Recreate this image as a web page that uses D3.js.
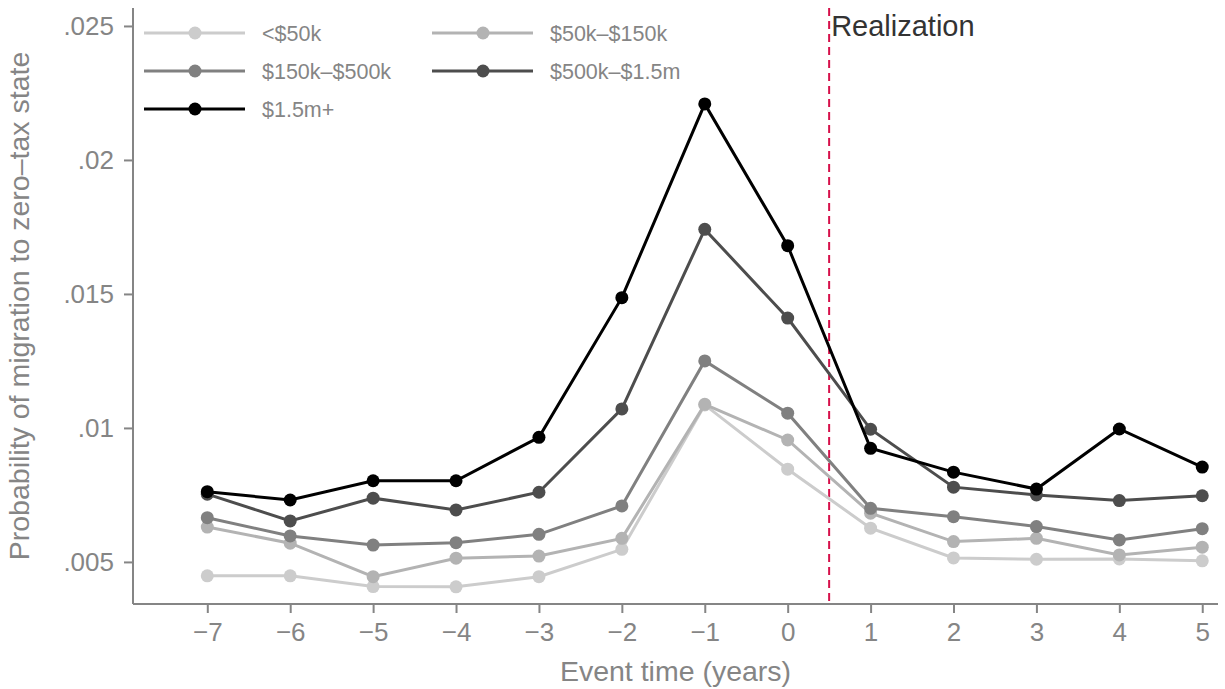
<!DOCTYPE html>
<html>
<head>
<meta charset="utf-8">
<script src="https://cdn.jsdelivr.net/npm/d3@7"></script>
<style>
  body { margin: 0; background: #fff; }
  svg { font-family: "Liberation Sans", Arial, sans-serif; }
</style>
</head>
<body>
<div id="content"></div>
<script>
// Screen dimensions
var w = 1225;
var h = 689;

// Data: event time vs probability of migration, by income group
var years = [-7, -6, -5, -4, -3, -2, -1, 0, 1, 2, 3, 4, 5];
var groups = ["<$50k", "$50k\u2013$150k", "$150k\u2013$500k", "$500k\u2013$1.5m", "$1.5m+"];
var under50k   = [0.00448, 0.00448, 0.00408, 0.00407, 0.00445, 0.00547, 0.01086, 0.00846, 0.00626, 0.00515, 0.0051, 0.00511, 0.00504];
var k50to150   = [0.0063, 0.0057, 0.00445, 0.00514, 0.00522, 0.00588, 0.01088, 0.00955, 0.00682, 0.00576, 0.00588, 0.00526, 0.00555];
var k150to500  = [0.00665, 0.00597, 0.00563, 0.00572, 0.00603, 0.00709, 0.0125, 0.01055, 0.007, 0.00669, 0.00632, 0.00582, 0.00624];
var k500to1500 = [0.00753, 0.00653, 0.00738, 0.00694, 0.0076, 0.01071, 0.01741, 0.0141, 0.00995, 0.00779, 0.0075, 0.00729, 0.00747];
var over1500   = [0.00762, 0.00731, 0.00803, 0.00803, 0.00965, 0.01486, 0.02209, 0.0168, 0.00924, 0.00835, 0.00772, 0.00996, 0.00854];
var series = [under50k, k50to150, k150to500, k500to1500, over1500];

var yTicks = [0.005, 0.01, 0.015, 0.02, 0.025];
var yTickLabels = [".005", ".01", ".015", ".02", ".025"];
var realizationAt = 0.5;

// Colors (light to dark)
var colors = ["#cccccc", "#b3b3b3", "#808080", "#4d4d4d", "#000000"];
var axisGrey = "#858585";

// Plot area (note: "top" is a reserved window property, so use other names)
var pLeft = 133, pRight = 1218, pTop = 8, pBottom = 604;

var x = d3.scaleLinear().domain([-7.896, 5.19]).range([pLeft, pRight]);
var y = d3.scaleLinear().domain([0.00343, 0.02567]).range([pBottom, pTop]);

var svg = d3.select("#content")
    .append("svg")
    .attr("width", w)
    .attr("height", h);

// Axes
var xAxis = d3.axisBottom(x)
    .tickValues(years)
    .tickSize(9)
    .tickPadding(10)
    .tickFormat(d3.format("d"));
var yAxis = d3.axisLeft(y)
    .tickValues(yTicks)
    .tickSize(9)
    .tickPadding(10)
    .tickFormat(function(d, i) { return yTickLabels[i]; });

var gx = svg.append("g")
    .attr("transform", "translate(0," + pBottom + ")")
    .call(xAxis);
gx.select(".domain").attr("d", "M" + pLeft + ",0H" + pRight);

var gy = svg.append("g")
    .attr("transform", "translate(" + pLeft + ",0)")
    .call(yAxis);
gy.select(".domain").attr("d", "M0," + pTop + "V" + pBottom);

[gx, gy].forEach(function(g) {
    g.selectAll(".domain, .tick line")
     .attr("stroke", axisGrey)
     .attr("stroke-width", 2);
    g.selectAll(".tick text")
     .attr("fill", axisGrey)
     .style("font-size", "26px")
     .style("font-family", "Liberation Sans, Arial, sans-serif");
});

// Axis titles
svg.append("text")
   .attr("x", (pLeft + pRight) / 2)
   .attr("y", 681)
   .attr("text-anchor", "middle")
   .attr("fill", axisGrey)
   .style("font-size", "28.5px")
   .text("Event time (years)");

svg.append("text")
   .attr("transform", "translate(29," + (pTop + pBottom) / 2 + ") rotate(-90)")
   .attr("text-anchor", "middle")
   .attr("fill", axisGrey)
   .style("font-size", "28.5px")
   .text("Probability of migration to zero\u2013tax state");

// Realization line
svg.append("line")
   .attr("x1", x(realizationAt))
   .attr("x2", x(realizationAt))
   .attr("y1", pTop)
   .attr("y2", pBottom)
   .attr("stroke", "#d6104a")
   .attr("stroke-width", 2)
   .attr("stroke-dasharray", "8,5");

svg.append("text")
   .attr("x", x(realizationAt) + 2)
   .attr("y", 36)
   .attr("fill", "#333333")
   .style("font-size", "29px")
   .text("Realization");

// Lines and points
var line = d3.line()
    .x(function(d, i) { return x(years[i]); })
    .y(function(d) { return y(d); });

series.forEach(function(vals, s) {
    var g = svg.append("g");
    g.append("path")
     .attr("d", line(vals))
     .attr("fill", "none")
     .attr("stroke", colors[s])
     .attr("stroke-width", 3);
    g.selectAll("circle")
     .data(vals)
     .enter()
     .append("circle")
     .attr("cx", function(d, i) { return x(years[i]); })
     .attr("cy", function(d) { return y(d); })
     .attr("r", 6.5)
     .attr("fill", colors[s]);
});

// Legend
var legend = svg.append("g");
groups.forEach(function(name, i) {
    var col = i % 2, row = Math.floor(i / 2);
    var lx = 144 + col * 288, ly = 33 + row * 38;
    legend.append("line")
       .attr("x1", lx).attr("x2", lx + 101)
       .attr("y1", ly).attr("y2", ly)
       .attr("stroke", colors[i])
       .attr("stroke-width", 3);
    legend.append("circle")
       .attr("cx", lx + 51).attr("cy", ly)
       .attr("r", 6.5)
       .attr("fill", colors[i]);
    legend.append("text")
       .attr("x", lx + 118)
       .attr("y", ly + 8)
       .attr("fill", axisGrey)
       .style("font-size", "21.5px")
       .text(name);
});
</script>
</body>
</html>
